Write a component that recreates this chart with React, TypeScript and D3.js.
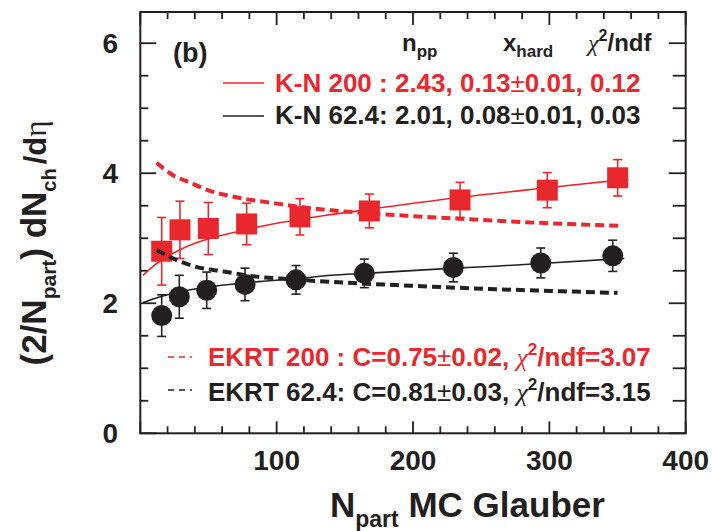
import React from 'react';
import * as d3 from 'd3';

// Data points (Npart, value, error)
const redNpart = [15.7, 29.1, 49.9, 78.0, 117.1, 168.0, 234.5, 298.5, 350.1];
const redVal = [2.80, 3.13, 3.15, 3.22, 3.33, 3.42, 3.59, 3.74, 3.93];
const redErr = [0.52, 0.44, 0.40, 0.32, 0.28, 0.26, 0.27, 0.27, 0.28];
const blackNpart = [15.7, 28.6, 48.7, 76.8, 114.2, 164.3, 229.6, 293.7, 346.5];
const blackVal = [1.81, 2.10, 2.20, 2.29, 2.36, 2.46, 2.55, 2.62, 2.73];
const blackErr = [0.32, 0.33, 0.28, 0.25, 0.22, 0.22, 0.22, 0.23, 0.24];

// K-N fit curves
const redFitX = [2, 10, 20, 35, 50, 75, 100, 135, 170, 235, 300, 358];
const redFitY = [2.43, 2.58, 2.72, 2.88, 2.99, 3.12, 3.23, 3.35, 3.45, 3.63, 3.78, 3.91];
const blackFitX = [2, 10, 20, 35, 50, 80, 115, 140, 165, 230, 260, 300, 355];
const blackFitY = [2.01, 2.07, 2.13, 2.20, 2.25, 2.32, 2.38, 2.43, 2.46, 2.54, 2.57, 2.62, 2.69];

// EKRT curves
const redEkrtX = [12, 24, 36, 51, 73, 98, 122, 140, 170, 200, 260, 300, 352];
const redEkrtY = [4.16, 3.97, 3.86, 3.73, 3.62, 3.54, 3.47, 3.43, 3.38, 3.34, 3.27, 3.23, 3.19];
const blackEkrtX = [12, 24, 41, 61, 85, 110, 139, 198, 256, 300, 350];
const blackEkrtY = [2.82, 2.69, 2.56, 2.49, 2.41, 2.37, 2.33, 2.27, 2.22, 2.19, 2.16];

const xTickLabels = [100, 200, 300, 400];
const yTickLabels = [0, 2, 4, 6];

const RED = '#e8282d';
const BLK = '#231f20';
const FONT = '"Liberation Sans", Arial, Helvetica, sans-serif';
const SYM = '"Liberation Serif", "DejaVu Serif", serif';

export default function App() {
  const L = 140.3, R = 685.7, T = 12, B = 433.3;
  const x = d3.scaleLinear().domain([0, 400]).range([L, R]);
  const y = d3.scaleLinear().domain([0, 6.48]).range([B, T]);

  const line = (xs: number[], ys: number[]) =>
    d3.line<number>().x((d, i) => x(xs[i])).y((d) => y(d)).curve(d3.curveMonotoneX)(ys) || '';

  const xMinor = d3.range(0, 401, 20);
  const yMinor = d3.range(0, 6.5, 0.5);

  const errBars = (xs: number[], vs: number[], es: number[], color: string) =>
    xs.map((xv, i) => {
      const cx = x(xv), y1 = y(vs[i] + es[i]), y2 = y(vs[i] - es[i]);
      return (
        <g key={i} stroke={color} strokeWidth={1.6}>
          <line x1={cx} x2={cx} y1={y1} y2={y2} />
          <line x1={cx - 4.5} x2={cx + 4.5} y1={y1} y2={y1} />
          <line x1={cx - 4.5} x2={cx + 4.5} y1={y2} y2={y2} />
        </g>
      );
    });

  return (
    <svg width={712} height={531} style={{ position: 'absolute', left: 0, top: 0, background: '#fff' }}
      fontFamily={FONT}>
      <rect x={0} y={0} width={712} height={531} fill="#fff" />

      {/* ticks */}
      <g stroke={BLK} strokeWidth={1.8}>
        {xMinor.map((v) => {
          const major = v % 100 === 0;
          return (
            <g key={'xt' + v}>
              <line x1={x(v)} x2={x(v)} y1={B} y2={B - (major ? 12 : 7)} />
              <line x1={x(v)} x2={x(v)} y1={T} y2={T + (major ? 13 : 7)} />
            </g>
          );
        })}
        {yMinor.map((v) => {
          const major = v % 2 === 0;
          return (
            <g key={'yt' + v}>
              <line x1={L} x2={L + (major ? 16 : 8)} y1={y(v)} y2={y(v)} />
              <line x1={R} x2={R - (major ? 17 : 13)} y1={y(v)} y2={y(v)} />
            </g>
          );
        })}
      </g>

      {/* tick labels */}
      {xTickLabels.map((v) => (
        <text key={'xl' + v} x={x(v)} y={470} textAnchor="middle" fontSize={28} fontWeight="bold" fill={BLK}>{v}</text>
      ))}
      {yTickLabels.map((v) => (
        <text key={'yl' + v} x={118} y={y(v) + 10} textAnchor="end" fontSize={28} fontWeight="bold" fill={BLK}>{v}</text>
      ))}

      {/* axis titles */}
      <text x={330} y={517} fontSize={35} fontWeight="bold" fill={BLK}>
        N<tspan fontSize={23} dy={10}>part</tspan><tspan dy={-10}> MC Glauber</tspan>
      </text>
      <text transform="rotate(-90)" x={-243} y={46} textAnchor="middle" fontSize={35} fontWeight="bold" fill={BLK}>
        (2/N<tspan fontSize={21} dy={10}>part</tspan><tspan dy={-10}>) dN</tspan><tspan fontSize={20} dy={10}>ch</tspan><tspan dy={-10} fontSize={31} dx={4}>/d</tspan><tspan fontSize={31} fontFamily={SYM} fontWeight="normal">η</tspan>
      </text>

      {/* red series */}
      <path d={line(redEkrtX, redEkrtY)} fill="none" stroke={RED} strokeWidth={4} strokeDasharray="9 5" />
      <path d={line(redFitX, redFitY)} fill="none" stroke={RED} strokeWidth={1.6} />
      {errBars(redNpart, redVal, redErr, RED)}
      {redNpart.map((xv, i) => (
        <rect key={'rs' + i} x={x(xv) - 10.5} y={y(redVal[i]) - 10.5} width={21} height={21} fill={RED} />
      ))}

      {/* black series */}
      <path d={line(blackEkrtX, blackEkrtY)} fill="none" stroke={BLK} strokeWidth={4} strokeDasharray="9 5" />
      <path d={line(blackFitX, blackFitY)} fill="none" stroke={BLK} strokeWidth={1.6} />
      {errBars(blackNpart, blackVal, blackErr, BLK)}
      {blackNpart.map((xv, i) => (
        <circle key={'bc' + i} cx={x(xv)} cy={y(blackVal[i])} r={10.5} fill={BLK} />
      ))}

      {/* frame */}
      <rect x={L} y={T} width={R - L} height={B - T} fill="none" stroke={BLK} strokeWidth={2} />

      {/* panel label */}
      <text x={173} y={62} fontSize={27} fontWeight="bold" fill={BLK}>(b)</text>

      {/* header */}
      <text x={402} y={51} fontSize={24} fontWeight="bold" fill={BLK}>
        n<tspan fontSize={17} dy={6}>pp</tspan>
      </text>
      <text x={503} y={51} fontSize={24} fontWeight="bold" fill={BLK}>
        x<tspan fontSize={17} dy={6}>hard</tspan>
      </text>
      <text x={588} y={51} fontSize={24} fontWeight="bold" fill={BLK}>
        <tspan fontFamily={SYM} fontWeight="normal" fontStyle="italic">χ</tspan><tspan fontSize={16} dy={-10}>2</tspan><tspan dy={10}>/ndf</tspan>
      </text>

      {/* K-N legend */}
      <line x1={223} x2={264} y1={83} y2={83} stroke={RED} strokeWidth={1.6} />
      <text x={275} y={92} fontSize={26} fontWeight="bold" fill={RED}>K-N 200 : 2.43, 0.13<tspan fontWeight="normal">±</tspan>0.01, 0.12</text>
      <line x1={223} x2={264} y1={116} y2={116} stroke={BLK} strokeWidth={1.6} />
      <text x={275} y={124} fontSize={26} fontWeight="bold" fill={BLK}>K-N 62.4: 2.01, 0.08<tspan fontWeight="normal">±</tspan>0.01, 0.03</text>

      {/* EKRT legend */}
      <line x1={168} x2={192} y1={357} y2={357} stroke={RED} strokeWidth={1.6} strokeDasharray="6 5" />
      <text x={208} y={366} fontSize={26} fontWeight="bold" fill={RED}>
        EKRT 200 : C=0.75<tspan fontWeight="normal">±</tspan>0.02, <tspan fontFamily={SYM} fontWeight="normal" fontStyle="italic">χ</tspan><tspan fontSize={17} dy={-11}>2</tspan><tspan dy={11}>/ndf=3.07</tspan>
      </text>
      <line x1={168} x2={192} y1={390} y2={390} stroke={BLK} strokeWidth={1.6} strokeDasharray="6 5" />
      <text x={208} y={401} fontSize={26} fontWeight="bold" fill={BLK}>
        EKRT 62.4: C=0.81<tspan fontWeight="normal">±</tspan>0.03, <tspan fontFamily={SYM} fontWeight="normal" fontStyle="italic">χ</tspan><tspan fontSize={17} dy={-11}>2</tspan><tspan dy={11}>/ndf=3.15</tspan>
      </text>
    </svg>
  );
}
